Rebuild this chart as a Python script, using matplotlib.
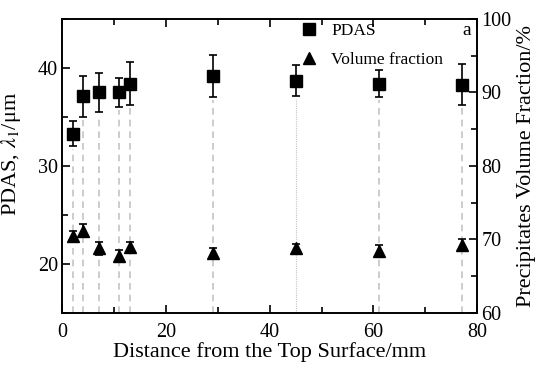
import numpy as np
import matplotlib.pyplot as plt
from matplotlib.lines import Line2D
from matplotlib.ticker import MultipleLocator

plt.rcParams['font.family'] = ['Liberation Serif', 'DejaVu Serif']
plt.rcParams['mathtext.fontset'] = 'stix'

# --- DATA ---
distance = [2, 4, 7, 11, 13, 29, 45, 61, 77]
pdas     = [33.3, 37.1, 37.5, 37.5, 38.4, 39.15, 38.7, 38.4, 38.3]
pdas_err = [1.3, 2.1, 2.0, 1.5, 2.2, 2.15, 1.6, 1.4, 2.1]
vf       = [70.5, 71.2, 68.8, 67.8, 69.0, 68.2, 68.9, 68.4, 69.2]
vf_err   = [0.7, 0.9, 0.9, 0.8, 0.7, 0.6, 0.5, 0.8, 0.8]

fig = plt.figure(figsize=(5.35, 3.69), dpi=100)
ax = fig.add_axes([0.1165, 0.152, 0.7755, 0.7965])
ax2 = ax.twinx()

# guide lines from the bottom up to the PDAS error bars
for x, p, e in zip(distance, pdas, pdas_err):
    ls = (0, (1, 1)) if x == 45 else (0, (4, 3))
    lw = 0.8 if x == 45 else 1.2
    ax.plot([x, x], [15, p - e - 0.3], color='#c4c4c4', ls=ls, lw=lw, zorder=1)

ax.errorbar(distance, pdas, yerr=pdas_err, fmt='s', color='black', ms=8.5,
            capsize=3, elinewidth=1.2, capthick=1.2, zorder=3)
ax2.errorbar(distance, vf, yerr=vf_err, fmt='^', color='black', ms=8.5,
             capsize=3, elinewidth=1.2, capthick=1.2, zorder=3)

ax.set_xlim(0, 80)
ax.set_ylim(15, 45)
ax2.set_ylim(60, 100)

ax.xaxis.set_major_locator(MultipleLocator(20))
ax.xaxis.set_minor_locator(MultipleLocator(10))
ax.yaxis.set_major_locator(MultipleLocator(10))
ax.yaxis.set_minor_locator(MultipleLocator(5))
ax2.yaxis.set_major_locator(MultipleLocator(10))
ax2.yaxis.set_minor_locator(MultipleLocator(5))

for a in (ax, ax2):
    a.tick_params(which='both', direction='in', labelsize=14.5, width=1.2, pad=3)
    a.tick_params(which='major', length=6)
    a.tick_params(which='minor', length=4)
    for sp in a.spines.values():
        sp.set_linewidth(1.2)
ax.tick_params(which='both', top=True)
ax.tick_params(axis='x', pad=7.5)

ax.set_xlabel('Distance from the Top Surface/mm', fontsize=16, labelpad=0)
ax.set_ylabel(r'PDAS, $\lambda_1$/μm', fontsize=16)
ax.yaxis.set_label_coords(-0.095, 0.54)
ax2.set_ylabel('Precipitates Volume Fraction/%', fontsize=16, labelpad=4)

handles = [Line2D([], [], ls='none', marker='s', color='black', ms=8.5),
           Line2D([], [], ls='none', marker='^', color='black', ms=8.5)]
ax2.legend(handles, ['PDAS', 'Volume fraction'], loc='upper left',
           bbox_to_anchor=(300 / 535, 1 - 23 / 369), bbox_transform=fig.transFigure,
           borderaxespad=0, borderpad=0, frameon=False, fontsize=12.5,
           handlelength=1, handletextpad=0.8, labelspacing=0.75)
ax.text(0.985, 0.99, 'a', transform=ax.transAxes, ha='right', va='top', fontsize=14)

fig.savefig('out.png', dpi=100)
